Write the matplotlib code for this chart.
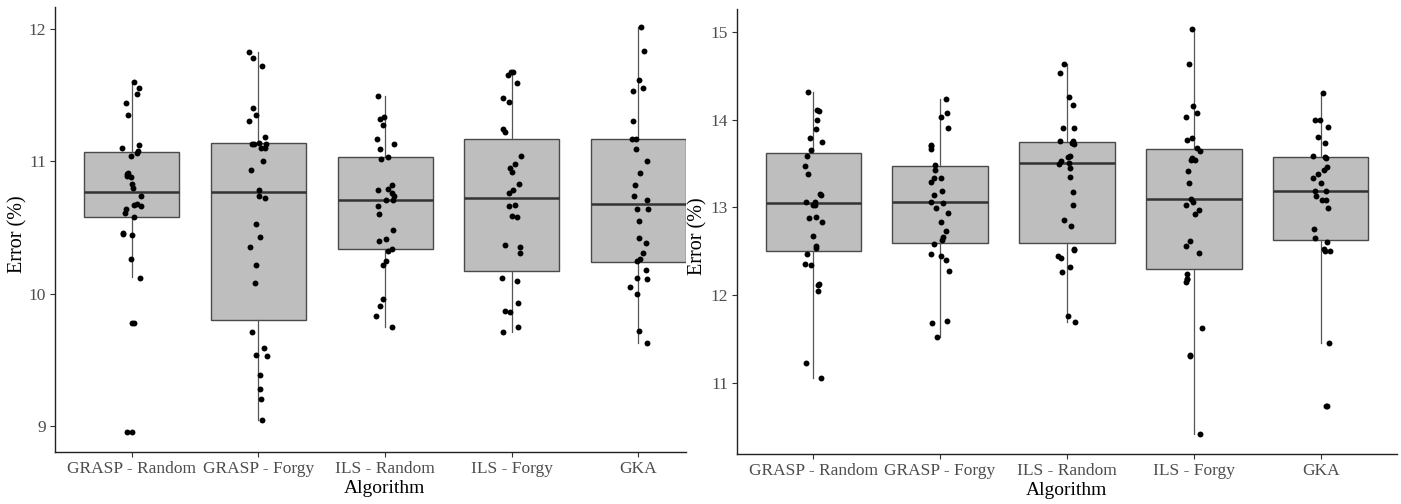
import numpy as np
import matplotlib
matplotlib.use('Agg')
import matplotlib.pyplot as plt

plt.rcParams['font.family'] = ['Liberation Serif', 'DejaVu Serif']

algorithms = ['GRASP - Random', 'GRASP - Forgy', 'ILS - Random', 'ILS - Forgy', 'GKA']

# ---- left panel: error (%) of each run
left_points = [
    [11.60, 11.55, 11.51, 11.44, 11.35, 11.12, 11.10, 11.08, 11.06, 11.04,
     10.91, 10.90, 10.89, 10.88, 10.83, 10.80, 10.74, 10.68, 10.67, 10.66,
     10.64, 10.61, 10.58, 10.46, 10.45, 10.44, 10.26, 10.12, 9.78, 9.78,
     8.96, 8.96],
    [11.82, 11.78, 11.72, 11.40, 11.35, 11.30, 11.18, 11.13, 11.13, 11.13,
     11.14, 11.10, 11.10, 11.00, 10.93, 10.78, 10.74, 10.72, 10.53, 10.43,
     10.35, 10.22, 10.08, 9.71, 9.59, 9.54, 9.53, 9.39, 9.28, 9.21, 9.05],
    [11.49, 11.33, 11.32, 11.27, 11.17, 11.13, 11.09, 11.03, 11.02, 10.82,
     10.79, 10.78, 10.76, 10.74, 10.71, 10.71, 10.66, 10.60, 10.48, 10.41,
     10.40, 10.34, 10.32, 10.25, 10.22, 9.96, 9.91, 9.83, 9.75],
    [11.67, 11.67, 11.65, 11.59, 11.48, 11.45, 11.24, 11.22, 11.04, 10.98,
     10.95, 10.92, 10.83, 10.76, 10.78, 10.67, 10.66, 10.59, 10.58, 10.35,
     10.37, 10.31, 10.12, 10.10, 9.93, 9.87, 9.86, 9.75, 9.71],
    [12.01, 11.83, 11.61, 11.55, 11.53, 11.30, 11.17, 11.17, 11.09, 11.00,
     10.91, 10.82, 10.74, 10.71, 10.64, 10.64, 10.55, 10.42, 10.38, 10.31,
     10.26, 10.25, 10.18, 10.12, 10.11, 10.05, 10.00, 9.72, 9.63],
]
# box statistics
left_q1 = [10.58, 9.80, 10.34, 10.17, 10.24]
left_med = [10.77, 10.77, 10.71, 10.72, 10.68]
left_q3 = [11.07, 11.14, 11.03, 11.17, 11.17]
left_lo = [10.13, 9.05, 9.75, 9.71, 9.63]
left_hi = [11.60, 11.82, 11.49, 11.67, 12.01]

# ---- right panel
right_points = [
    [14.32, 14.10, 14.11, 13.99, 13.89, 13.74, 13.79, 13.65, 13.58, 13.47,
     13.38, 13.14, 13.15, 13.06, 13.06, 13.03, 13.03, 12.89, 12.88, 12.83,
     12.67, 12.54, 12.56, 12.47, 12.36, 12.34, 12.11, 12.13, 12.05, 11.23,
     11.06],
    [14.23, 14.07, 14.03, 13.90, 13.71, 13.70, 13.67, 13.48, 13.43, 13.34,
     13.33, 13.29, 13.19, 13.14, 13.05, 13.06, 12.99, 12.94, 12.83, 12.73,
     12.66, 12.63, 12.58, 12.45, 12.47, 12.40, 12.28, 11.71, 11.68, 11.52],
    [14.63, 14.53, 14.26, 14.17, 13.91, 13.91, 13.76, 13.76, 13.73, 13.72,
     13.53, 13.57, 13.58, 13.50, 13.49, 13.45, 13.35, 13.17, 13.03, 12.86,
     12.79, 12.53, 12.51, 12.42, 12.45, 12.32, 12.26, 11.76, 11.69],
    [15.03, 14.63, 14.15, 14.08, 14.03, 13.79, 13.77, 13.68, 13.64, 13.56,
     13.54, 13.54, 13.41, 13.28, 13.09, 13.06, 13.03, 12.97, 12.93, 12.62,
     12.56, 12.48, 12.24, 12.18, 12.18, 12.15, 11.63, 11.31, 11.32, 10.42],
    [14.30, 14.00, 14.00, 13.92, 13.80, 13.73, 13.59, 13.57, 13.56, 13.46,
     13.43, 13.38, 13.33, 13.28, 13.19, 13.19, 13.13, 13.08, 13.08, 12.99,
     12.75, 12.65, 12.61, 12.53, 12.50, 12.50, 11.45, 10.74, 10.74],
]
right_q1 = [12.50, 12.59, 12.59, 12.30, 12.63]
right_med = [13.05, 13.06, 13.50, 13.09, 13.19]
right_q3 = [13.62, 13.47, 13.75, 13.66, 13.57]
right_lo = [11.06, 11.52, 11.69, 10.42, 11.45]
right_hi = [14.32, 14.23, 14.63, 15.03, 14.30]

W, H = 1401, 504
fig = plt.figure(figsize=(W / 100, H / 100), dpi=100)
ax_l = fig.add_axes([55 / W, 52 / H, (686 - 55) / W, (452 - 7) / H])
ax_r = fig.add_axes([737 / W, 50 / H, (1397 - 737) / W, (454 - 9) / H])

rng = np.random.default_rng(7)


def draw_panel(ax, points, q1, med, q3, lo, hi, xlim, yticks, label_x, ylabel_x):
    pos = np.arange(1, len(algorithms) + 1)
    stats = [dict(q1=a, med=m, q3=b, whislo=l, whishi=h, label=n)
             for a, m, b, l, h, n in zip(q1, med, q3, lo, hi, algorithms)]
    ax.bxp(stats, positions=pos, widths=0.75, showfliers=False,
           showcaps=False, patch_artist=True,
           boxprops=dict(facecolor='#BEBEBE', edgecolor='#4A4A4A', linewidth=1.0),
           medianprops=dict(color='#333333', linewidth=1.8),
           whiskerprops=dict(color='#555555', linewidth=0.9))
    for p, vals in zip(pos, points):
        vals = np.asarray(vals)
        xs = p + rng.uniform(-0.075, 0.075, size=len(vals))
        ax.scatter(xs, vals, s=18, color='black', zorder=3, linewidths=0)

    allv = np.concatenate([np.concatenate(points), lo, hi])
    span = allv.max() - allv.min()
    ax.set_ylim(allv.min() - 0.05 * span, allv.max() + 0.05 * span)
    ax.set_xlim(*xlim)
    ax.set_xticks(pos)
    ax.set_xticklabels(algorithms)
    ax.set_yticks(yticks)
    ax.tick_params(axis='both', length=3.5, width=0.8, color='#333333',
                   labelcolor='#4D4D4D', labelsize=12.5, pad=3)
    for side in ('top', 'right'):
        ax.spines[side].set_visible(False)
    for side in ('left', 'bottom'):
        ax.spines[side].set_color('#222222')
        ax.spines[side].set_linewidth(1.0)
    ax.set_xlabel('Algorithm', fontsize=14, color='black')
    ax.set_ylabel('Error (%)', fontsize=14.5, color='black')
    ax.xaxis.set_label_coords(label_x, -0.064)
    ax.yaxis.set_label_coords(ylabel_x, 0.49)


draw_panel(ax_l, left_points, left_q1, left_med, left_q3, left_lo, left_hi,
           (0.395, 5.375), [9, 10, 11, 12], (385 - 55) / (686 - 55),
           (27 - 55) / (686 - 55))
draw_panel(ax_r, right_points, right_q1, right_med, right_q3, right_lo, right_hi,
           (0.4, 5.6), [11, 12, 13, 14, 15], 0.5, (707 - 737) / (1397 - 737))

fig.savefig('out.png', dpi=100)
